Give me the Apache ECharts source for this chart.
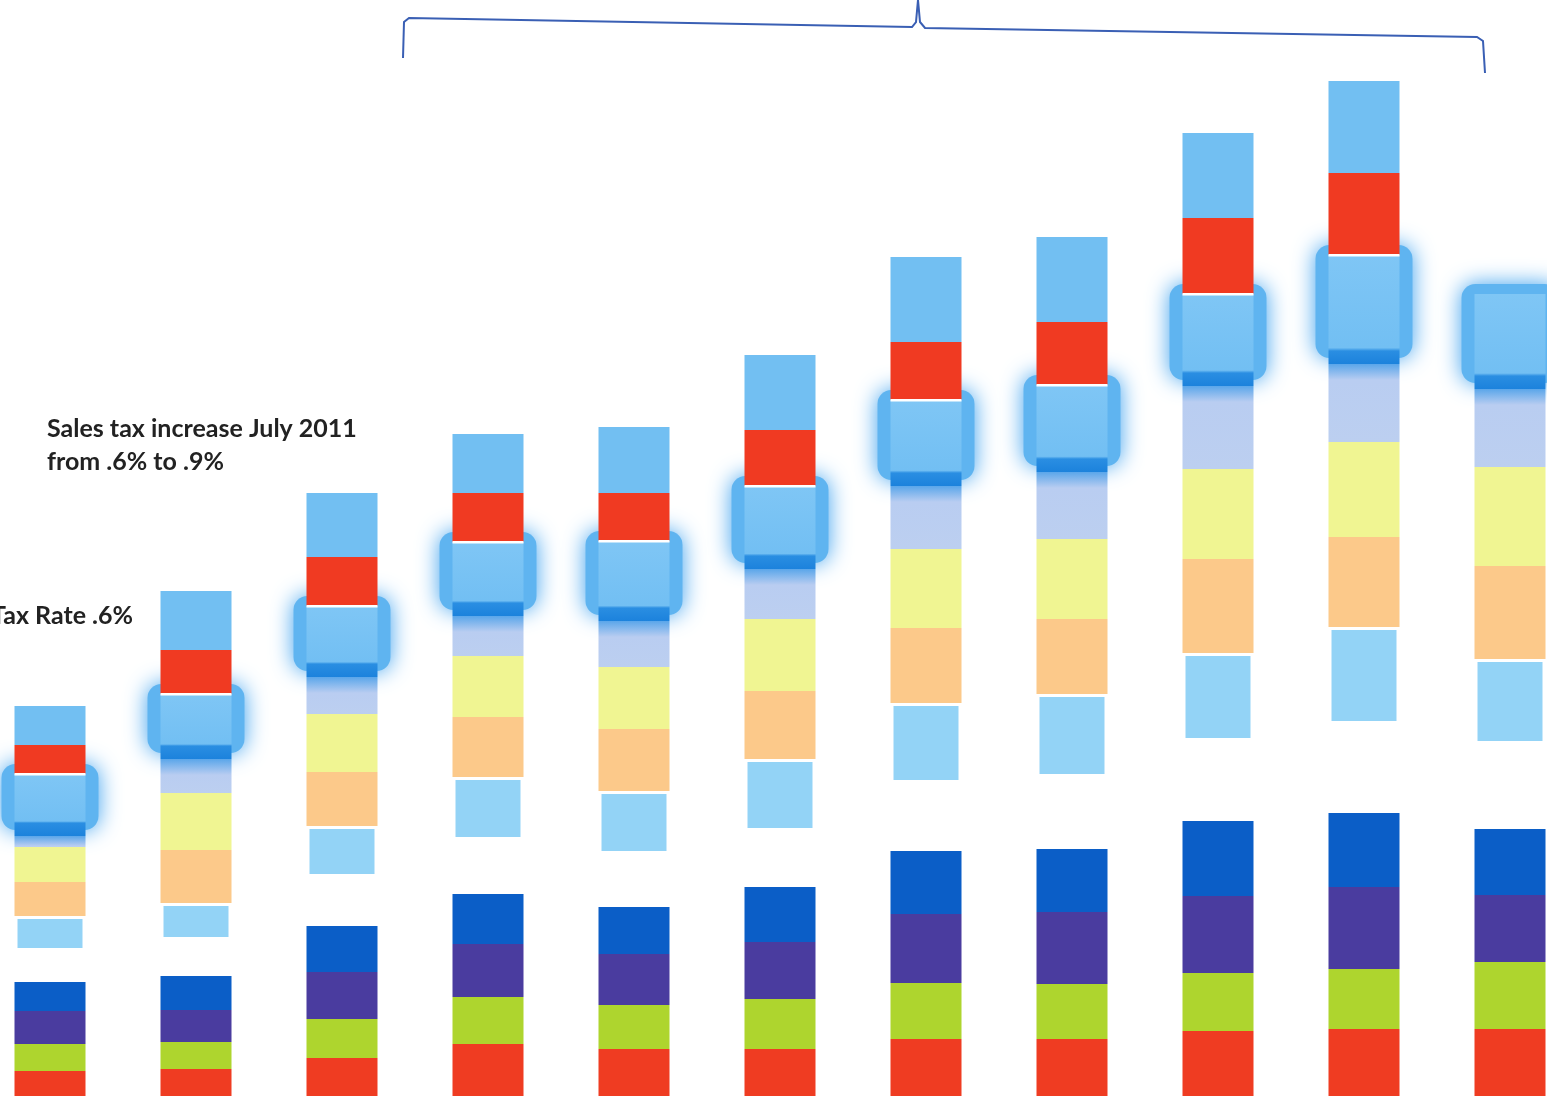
<!DOCTYPE html>
<html>
<head>
<meta charset="utf-8">
<title>Sales tax revenue by component</title>
<script src="https://cdn.jsdelivr.net/npm/echarts@6/dist/echarts.min.js"></script>
<style>
  html, body { margin: 0; padding: 0; background: #ffffff; }
  #chart { width: 1547px; height: 1107px; }
</style>
</head>
<body>
<div id="chart"></div>
<script>
// Periods along the horizontal axis (labels are not shown)
const periods = ['1', '2', '3', '4', '5', '6', '7', '8', '9', '10', '11'];

// Stacked components, bottom to top
const baseRed   = [25, 27, 38, 52, 47, 47, 57, 57, 65, 67, 67];
const green     = [27, 27, 39, 47, 44, 50, 56, 55, 58, 60, 67];
const purple    = [33, 32, 47, 53, 51, 57, 69, 72, 77, 82, 67];
const darkBlue  = [29, 34, 46, 50, 47, 55, 63, 63, 75, 74, 66];
const spacer    = [31, 36, 49, 54, 53, 56, 68, 72, 80, 89, 85];
const skyBlue   = [35, 37, 51, 63, 63, 72, 80, 83, 88, 97, 85];
const peach     = [34, 53, 54, 60, 62, 68, 75, 75, 94, 90, 93];
const yellow    = [35, 57, 58, 61, 62, 72, 79, 80, 90, 95, 99];
const lavender  = [11, 34, 37, 40, 46, 50, 63, 67, 83, 78, 78];
const highlight = [62, 65, 71, 74, 80, 83, 86, 87, 92, 109, 95];
const topRed    = [29, 44, 49, 49, 48, 56, 58, 63, 76, 82, 0];
const topBlue   = [39, 59, 64, 59, 66, 75, 85, 85, 85, 92, 0];

const BAR_W = 71;

const chart = echarts.init(document.getElementById('chart'));

function grad(stops) {
  return new echarts.graphic.LinearGradient(0, 0, 0, 1, stops);
}

// highlighted band: light fill with a darker blue strip at its foot
const highlightData = highlight.map(v => {
  const f = Math.max(0.01, 1 - 13 / v);
  return {
    value: v,
    itemStyle: {
      color: grad([
        { offset: 0, color: '#7fc6f5' },
        { offset: f - 0.03, color: '#72bff3' },
        { offset: f, color: '#2a8ee2' },
        { offset: 1, color: '#1c82dc' }
      ])
    }
  };
});

// lavender band picks up a blue bleed just under the highlight
const lavenderData = lavender.map(v => {
  const f = Math.min(0.9, 16 / v);
  return {
    value: v,
    itemStyle: {
      color: grad([
        { offset: 0, color: '#5aa6ea' },
        { offset: f, color: '#b9cdf1' },
        { offset: 1, color: '#bccff0' }
      ])
    }
  };
});

// lower and upper edges of the highlighted band
const haloData = periods.map((p, i) => {
  const base = baseRed[i] + green[i] + purple[i] + darkBlue[i] + spacer[i] +
    skyBlue[i] + peach[i] + yellow[i] + lavender[i];
  return [i, base, base + highlight[i], topRed[i] + topBlue[i]];
});

function bar(name, data, color, extra) {
  return Object.assign({
    name: name,
    type: 'bar',
    stack: 'total',
    barWidth: BAR_W,
    data: data,
    z: 3,
    itemStyle: { color: color },
    emphasis: { disabled: true }
  }, extra || {});
}

const option = {
  backgroundColor: '#ffffff',
  animation: false,
  grid: { left: -23, right: -36, top: 6, bottom: 11, outerBoundsMode: 'none' },
  xAxis: { type: 'category', data: periods, show: false },
  yAxis: { type: 'value', min: 0, max: 1090, show: false },
  series: [
    bar('Base red', baseRed, '#ef3c22'),
    bar('Green', green, '#aed52e'),
    bar('Purple', purple, '#4a3c9f'),
    bar('Dark blue', darkBlue, '#0b5ec7'),
    bar('Spacer', spacer, 'rgba(0,0,0,0)'),
    bar('Sky blue', skyBlue, '#93d3f6', { itemStyle: { color: '#93d3f6', borderColor: '#ffffff', borderWidth: 3 } }),
    bar('Peach', peach, '#fcc98a'),
    bar('Yellow', yellow, '#f0f592'),
    bar('Lavender', lavenderData, '#bccff0'),
    bar('Highlight', highlightData, '#72bff3'),
    bar('Top red', topRed, '#f03a22'),
    bar('Top blue', topBlue, '#72bff2'),
    {
      // soft halo behind the highlighted band
      name: 'Halo',
      type: 'custom',
      coordinateSystem: 'cartesian2d',
      data: haloData,
      encode: { x: 0, y: [1, 2] },
      z: 1,
      silent: true,
      renderItem: function (params, api) {
        const x = api.value(0);
        const lo = api.coord([x, api.value(1)]);
        const hi = api.coord([x, api.value(2)]);
        const w = BAR_W + 26;
        return {
          type: 'rect',
          shape: { x: lo[0] - w / 2, y: hi[1] - 10, width: w, height: lo[1] - hi[1] + 4, r: 14 },
          style: { fill: '#5fb4f0', shadowBlur: 22, shadowColor: 'rgba(60,160,238,1)' }
        };
      }
    },
    {
      // thin white seam where the red band sits on the highlight
      name: 'Seam',
      type: 'custom',
      coordinateSystem: 'cartesian2d',
      data: haloData,
      encode: { x: 0, y: [1, 2] },
      z: 4,
      silent: true,
      renderItem: function (params, api) {
        if (api.value(3) <= 0) return null;
        const x = api.value(0);
        const hi = api.coord([x, api.value(2)]);
        return {
          type: 'rect',
          shape: { x: hi[0] - BAR_W / 2, y: hi[1] - 1, width: BAR_W, height: 2.5 },
          style: { fill: '#ffffff' }
        };
      }
    }
  ],
  graphic: [
    {
      type: 'polyline',
      z: 10,
      shape: {
        points: [[403, 58], [404, 22], [409, 18], [912, 27], [916, 22], [918, 0],
                 [920, 22], [925, 28], [1477, 37], [1483, 41], [1485, 73]]
      },
      style: { stroke: '#3a5fb4', lineWidth: 2, fill: null }
    },
    {
      type: 'text',
      z: 10,
      x: 47,
      y: 412,
      style: {
        text: 'Sales tax increase July 2011\nfrom .6% to .9%',
        font: 'bold 25px Lato, "Open Sans", sans-serif',
        fill: '#222222',
        lineHeight: 33
      }
    },
    {
      type: 'text',
      z: 10,
      x: 133,
      y: 603,
      style: {
        text: 'Tax Rate .6%',
        font: 'bold 25px Lato, "Open Sans", sans-serif',
        fill: '#222222',
        align: 'right'
      }
    }
  ]
};

chart.setOption(option);
</script>
</body>
</html>
